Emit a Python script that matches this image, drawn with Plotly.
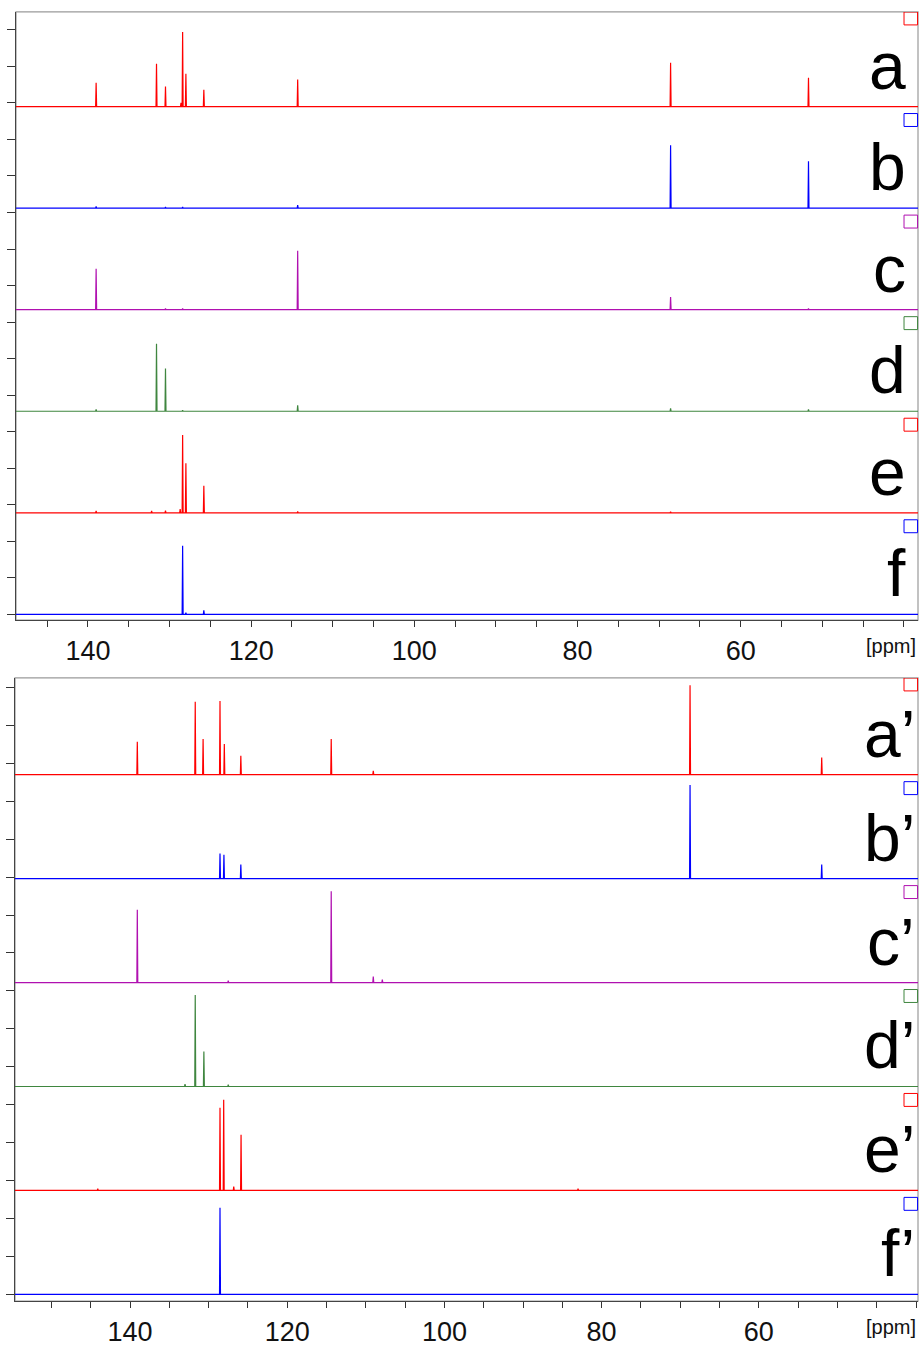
import plotly.graph_objects as go

# ---------------------------------------------------------------------------
# 13C spectra, upper stack (a-f): chemical shifts [ppm] and peak heights
# ---------------------------------------------------------------------------
a_shift = [139.0, 131.6, 130.5, 128.6, 128.4, 128.0, 125.8, 114.3, 68.6, 51.7]
a_height = [0.65, 1.17, 0.55, 0.10, 2.04, 0.90, 0.46, 0.74, 1.20, 0.79]

b_shift = [139.0, 130.5, 128.4, 114.3, 68.6, 51.7]
b_height = [0.05, 0.03, 0.03, 0.08, 1.72, 1.28]

c_shift = [139.0, 130.5, 128.4, 114.3, 68.6, 51.7]
c_height = [1.12, 0.03, 0.03, 1.61, 0.35, 0.03]

d_shift = [139.0, 131.6, 130.5, 128.4, 114.3, 68.6, 51.7]
d_height = [0.05, 1.85, 1.17, 0.03, 0.16, 0.08, 0.05]

e_shift = [139.0, 132.2, 130.5, 128.7, 128.4, 128.0, 125.8, 114.3, 68.6]
e_height = [0.05, 0.05, 0.06, 0.10, 2.13, 1.36, 0.74, 0.04, 0.03]

f_shift = [128.4, 128.0, 125.8]
f_height = [1.88, 0.05, 0.11]

# ---------------------------------------------------------------------------
# 13C spectra, lower stack (a'-f')
# ---------------------------------------------------------------------------
a2_shift = [139.07, 131.7, 130.7, 128.55, 128.0, 125.9, 114.4, 109.05, 68.75, 52.0]
a2_height = [0.87, 1.92, 0.94, 1.94, 0.81, 0.50, 0.94, 0.10, 2.36, 0.45]

b2_shift = [128.55, 128.05, 125.9, 68.75, 52.0]
b2_height = [0.66, 0.63, 0.37, 2.47, 0.37]

c2_shift = [139.07, 127.5, 114.4, 109.05, 107.9]
c2_height = [1.92, 0.05, 2.41, 0.16, 0.08]

d2_shift = [133.0, 131.7, 130.6, 127.5]
d2_height = [0.06, 2.41, 0.92, 0.05]

e2_shift = [144.1, 128.55, 128.08, 126.8, 125.87, 83.0]
e2_height = [0.05, 2.18, 2.39, 0.10, 1.47, 0.05]

f2_shift = [128.55]
f2_height = [2.28]

top_labels = ["a", "b", "c", "d", "e", "f"]
bottom_labels = ["a\u2019", "b\u2019", "c\u2019", "d\u2019", "e\u2019", "f\u2019"]
axis_tick_labels = [140, 120, 100, 80, 60]

RED, BLUE, MAGENTA, GREEN = "#ff0000", "#0000ff", "#b010b0", "#3f863f"
colors = [RED, BLUE, MAGENTA, GREEN, RED, BLUE]

top_data = [(a_shift, a_height), (b_shift, b_height), (c_shift, c_height),
            (d_shift, d_height), (e_shift, e_height), (f_shift, f_height)]
bottom_data = [(a2_shift, a2_height), (b2_shift, b2_height), (c2_shift, c2_height),
               (d2_shift, d2_height), (e2_shift, e2_height), (f2_shift, f2_height)]

W, H = 921, 1347

# panel geometry (pixels) and axis ranges
panels = [
    dict(data=top_data, labels=top_labels, xr=(148.82, 38.28), yr=(-0.16, 16.49),
         px=(16, 918), py=(12, 623), step=2.78, unit=36.7, xa="x", ya="y",
         label_dx=0.9885),
    dict(data=bottom_data, labels=bottom_labels, xr=(154.63, 39.75), yr=(-0.18, 16.25),
         px=(15, 918), py=(681, 1307), step=2.74, unit=38.1, xa="x2", ya="y2",
         label_dx=0.9985),
]


def stick_line(shifts, heights, base, x_hi, x_lo, hw=0.06):
    xs, ys = [x_hi], [base]
    for p, h in sorted(zip(shifts, heights), reverse=True):
        xs += [p + hw, p, p - hw]
        ys += [base, base + h, base]
    xs.append(x_lo)
    ys.append(base)
    return xs, ys


fig = go.Figure()
shapes = []
annotations = []

for pi, pan in enumerate(panels):
    x_hi, x_lo = pan["xr"]
    n = len(pan["data"])
    offsets = [(n - 1 - i) * pan["step"] for i in range(n)]
    for i, (shifts, heights) in enumerate(pan["data"]):
        xs, ys = stick_line(shifts, heights, offsets[i], x_hi, x_lo)
        fig.add_trace(go.Scatter(x=xs, y=ys, mode="lines",
                                 line=dict(color=colors[i], width=1.2),
                                 xaxis=pan["xa"], yaxis=pan["ya"],
                                 showlegend=False, hoverinfo="skip"))
        # coloured marker box at the top right of each band
        ytop = pan["yr"][1]
        y1 = min(offsets[i] + pan["step"] - 7 / pan["unit"], ytop)
        y0 = y1 - 13 / pan["unit"]
        shapes.append(dict(type="rect", xref=pan["xa"] + " domain", yref=pan["ya"],
                           x0=0.9845, x1=0.9995, y0=y0, y1=y1,
                           line=dict(color=colors[i], width=1), fillcolor="rgba(0,0,0,0)"))
        annotations.append(dict(text=pan["labels"][i], xref=pan["xa"] + " domain",
                                yref=pan["ya"], x=pan["label_dx"], y=offsets[i],
                                xanchor="right", yanchor="bottom", yshift=2, showarrow=False,
                                font=dict(family="Liberation Sans", size=66, color="#000")))
    # light frame on top and right
    x0p, x1p = pan["px"]
    y0p, y1p = pan["py"]
    shapes.append(dict(type="rect", xref="paper", yref="paper",
                       x0=x0p / W, x1=x1p / W, y0=1 - y1p / H, y1=1 - y0p / H,
                       line=dict(color="#9a9a9a", width=1.2), layer="below"))
    annotations.append(dict(text="[ppm]", xref=pan["xa"] + " domain", yref="paper",
                            x=0.9995, y=1 - (y1p + 26) / H, xanchor="right",
                            yanchor="middle", showarrow=False,
                            font=dict(family="Liberation Sans", size=20, color="#111")))

tickvals = list(range(40, 160, 5))
ticktext = [str(v) if v in axis_tick_labels else "" for v in tickvals]

layout_axes = {}
for pi, pan in enumerate(panels):
    suffix = "" if pi == 0 else "2"
    x0p, x1p = pan["px"]
    y0p, y1p = pan["py"]
    layout_axes["xaxis" + suffix] = dict(
        domain=[x0p / W, x1p / W], range=list(pan["xr"]), anchor="y" + suffix,
        tickmode="array", tickvals=tickvals, ticktext=ticktext,
        ticks="outside", ticklen=6, tickwidth=1, tickcolor="#333",
        showline=True, linecolor="#444", linewidth=1.2, showgrid=False, zeroline=False,
        tickfont=dict(family="Liberation Sans", size=27, color="#111"))
    layout_axes["yaxis" + suffix] = dict(
        domain=[1 - y1p / H, 1 - y0p / H], range=list(pan["yr"]), anchor="x" + suffix,
        tickmode="linear", tick0=0, dtick=1, showticklabels=False,
        ticks="outside", ticklen=8, tickwidth=1, tickcolor="#333",
        showline=True, linecolor="#444", linewidth=1.2, showgrid=False, zeroline=False)

fig.update_layout(width=W, height=H, margin=dict(l=0, r=0, t=0, b=0),
                  paper_bgcolor="white", plot_bgcolor="white",
                  shapes=shapes, annotations=annotations, **layout_axes)

fig.write_html("out.html")
